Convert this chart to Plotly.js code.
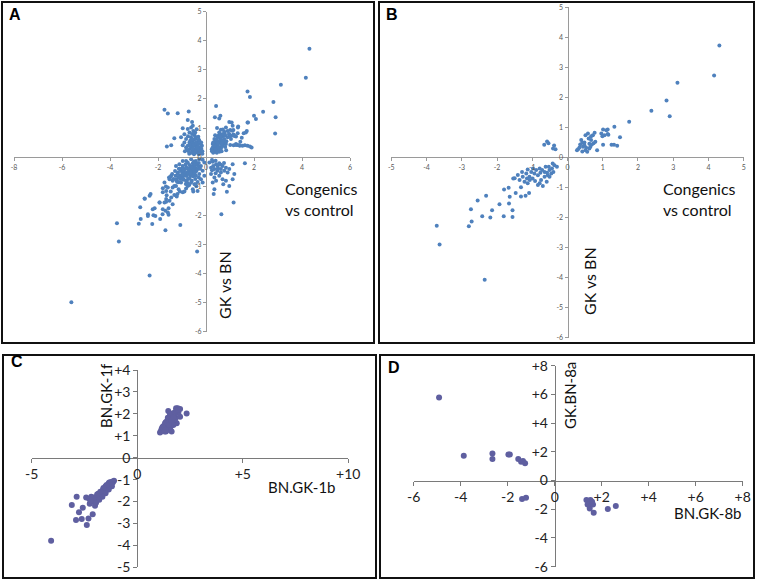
<!DOCTYPE html>
<html><head><meta charset="utf-8">
<script src="https://cdn.plot.ly/plotly-3.0.1.min.js"></script>
<style>body{margin:0;padding:0;background:#fff}#chart{width:757px;height:582px}</style>
</head><body><div id="chart"></div>
<script>
// ---- Panel B (subset, also shown in A) ----
const bX = [4.31,4.16,3.12,2.81,2.90,2.38,1.75,1.49,1.33,1.16,1.14,1.01,0.99,1.41,1.32,1.25,1.01,
  0.30,0.36,0.44,0.48,0.51,0.58,0.51,0.56,0.62,0.67,0.72,0.77,0.74,0.79,0.84,0.65,0.42,0.48,0.34,0.60,0.67,0.62,0.96,1.05,1.10,1.14,0.42,0.27,0.39,0.53,0.69,
  -0.66,-0.58,-0.54,-0.38,-0.34,-0.41,
  -1.54,-1.67,-1.80,-1.32,-1.47,-1.32,-1.19,-1.09,-2.31,-2.55,-2.74,-2.72,-2.42,-2.14,-2.19,-1.93,-1.81,-1.66,-1.56,-1.56,-1.64,-2.80,-3.71,-3.63,-2.35,
  -0.37,-0.30,-0.44,-0.51,-0.46,-0.56,-0.65,-0.72,-0.79,-0.89,-0.94,-1.03,-1.13,-1.17,-1.08,-0.99,-0.75,-0.84,-0.70,-0.59,-1.27,-1.36,-1.41,-1.50,-1.22,-1.13,-0.42,-0.53,-0.62,-0.98,-0.84,-0.51,-0.65,-0.92,-1.07,-0.40,-0.58,-0.77,-1.15,-1.29,-0.79];
const bY = [3.73,2.73,2.49,1.90,1.37,1.56,1.19,0.67,1.02,0.76,0.93,0.93,0.71,0.39,0.42,0.42,0.42,
  0.27,0.43,0.36,0.50,0.74,0.80,0.24,0.19,0.46,0.58,0.74,0.82,0.47,0.52,0.24,0.36,0.49,0.41,0.33,0.63,0.71,0.30,0.80,0.74,0.91,0.78,0.20,0.24,0.58,0.32,0.43,
  0.42,0.53,0.47,0.40,0.27,0.30,
  -0.70,-1.01,-1.07,-0.99,-1.18,-1.30,-1.27,-1.18,-1.27,-1.43,-1.72,-2.13,-1.96,-1.76,-2.00,-1.56,-1.96,-1.53,-1.76,-1.98,-1.31,-2.29,-2.27,-2.90,-4.07,
  -0.26,-0.31,-0.37,-0.42,-0.53,-0.59,-0.48,-0.42,-0.37,-0.42,-0.53,-0.48,-0.40,-0.53,-0.64,-0.70,-0.75,-0.92,-0.95,-0.81,-0.64,-0.75,-0.58,-0.69,-0.81,-0.86,-0.20,-0.31,-0.31,-0.37,-0.59,-0.64,-0.64,-0.78,-0.75,-0.48,-0.51,-0.51,-0.70,-0.48,-0.86];

// ---- Panel A extra points (A = B points + these) ----
const aExtraX = [
  -1.73,-1.59,-1.18,-0.72,-0.76,-0.58,-0.55,-0.97,-1.32,-1.63,-1.45,-1.04,-0.69,-0.53,-0.83,-0.90,-0.69,-0.62,-0.48,-0.42,-0.55,-0.76,-0.62,-0.48,-0.35,-0.28,-0.42,-0.55,-0.69,-0.35,-0.21,-0.48,-0.83,-0.97,-0.28,-0.17,-0.76,-0.62,-0.90,-0.39,-0.25,-0.58,
  -0.45,-0.30,-0.60,-0.20,-0.72,-0.38,-0.50,-0.65,-0.32,-0.25,-0.15,-0.55,-0.40,-0.62,-0.75,-0.45,
  -0.30,-0.50,-0.70,-0.35,-0.52,-0.67,-0.80,-0.60,-0.42,-0.20,-0.30,-0.15,-0.88,-0.58,-0.45,
  0.42,0.37,0.60,0.55,0.46,0.97,1.07,1.73,1.83,2.00,2.08,1.70,1.57,1.32,1.25,1.11,1.34,1.43,1.25,1.15,1.62,1.90,0.83,0.90,0.76,0.62,0.69,0.48,0.35,0.28,0.24,0.35,0.48,0.62,0.76,0.90,0.55,0.69,0.83,0.42,0.28,0.97,1.04,1.18,1.52,1.39,1.73,2.88,1.73,1.66,1.83,
  0.30,0.45,0.40,0.55,0.65,0.80,0.35,0.50,0.70,0.25,
  0.45,0.60,0.55,0.70,0.80,0.38,0.52,0.66,0.30,0.85,
  0.14,0.28,0.42,0.55,0.69,0.83,0.97,1.11,1.62,0.21,0.35,0.48,0.62,0.76,0.55,0.69,0.83,0.35,0.21,0.42,0.28,1.11,0.48,0.62,0.90,0.35,0.32,0.87,1.15,0.64,0.97,0.72,1.18,
  0.25,0.40,0.30,0.50,0.25,0.40,0.60,0.75,
  -1.25,-1.11,-0.97,-0.83,-0.69,-0.55,-0.42,-0.28,-0.14,-0.07,-0.21,-0.35,-0.48,-0.62,-0.76,-0.90,-1.04,-1.18,-1.11,-0.97,-0.83,-0.69,-0.55,-0.42,-0.28,-0.14,-0.21,-0.35,-0.48,-0.62,-1.45,-1.39,-1.52,-1.73,-1.59,-1.66,-1.80,-1.39,-1.25,-1.14,-0.97,-0.83,-0.55,-0.35,-1.22,-1.45,-1.66,-1.94,-1.73,-1.52,-1.39,-1.80,-1.69,-1.59,-2.22,-2.35,-2.56,-1.91,-2.11,-2.42,-2.24,-0.83,-0.62,-0.97,-0.76,-0.48,-0.39,-0.69,-0.55,-0.90,-1.04,-1.25,-0.76,-0.14,-0.07,
  -0.30,-0.50,-0.65,-0.45,-0.80,-0.95,-1.10,-0.70,-0.40,-0.25,-0.60,-0.85,-1.00,-1.20,-0.30,
  -0.37,-5.61,-1.69,-1.07,-0.44,-0.53,-0.90];
const aExtraY = [
  1.63,1.50,1.51,1.57,1.28,1.21,1.08,0.99,0.65,0.37,0.41,0.68,0.85,0.90,0.62,0.50,0.50,0.68,0.76,0.62,0.50,0.39,0.33,0.39,0.45,0.33,0.27,0.22,0.27,0.16,0.22,0.14,0.33,0.41,0.56,0.39,0.97,1.02,0.79,0.96,0.16,0.39,
  0.20,0.25,0.15,0.30,0.20,0.50,0.60,0.58,0.70,0.45,0.20,0.30,0.35,0.45,0.72,0.85,
  0.10,0.10,0.12,0.35,0.42,0.40,0.25,0.60,0.50,0.50,0.60,0.12,0.20,0.80,0.70,
  1.76,1.37,1.42,1.33,1.00,1.21,1.19,2.26,2.07,1.42,1.31,0.90,0.82,0.82,0.71,1.08,1.05,0.53,0.45,0.41,0.41,0.33,1.02,0.90,0.87,0.94,0.79,0.68,0.62,0.45,0.27,0.22,0.39,0.50,0.62,0.68,0.27,0.39,0.45,0.50,0.33,0.79,0.62,0.73,0.39,0.41,0.39,0.81,1.19,0.85,0.37,
  0.15,0.15,0.30,0.55,0.20,0.35,0.40,0.48,0.55,0.20,
  0.60,0.70,0.85,0.95,0.75,0.75,0.35,0.48,0.50,0.55,
  -0.18,-0.16,-0.24,-0.21,-0.30,-0.36,-0.41,-0.24,-0.21,-0.36,-0.41,-0.47,-0.53,-0.47,-0.64,-0.76,-0.81,-0.70,-0.58,-0.81,-0.87,-0.76,-0.30,-0.41,-0.53,-1.10,-1.27,-1.19,-1.56,-1.96,-0.99,-0.93,-0.58,
  -0.10,-0.12,-0.30,-0.38,-0.45,-0.55,-0.25,-0.20,
  -0.30,-0.24,-0.30,-0.36,-0.27,-0.21,-0.13,-0.07,-0.09,-0.18,-0.30,-0.41,-0.53,-0.47,-0.58,-0.53,-0.47,-0.58,-0.70,-0.76,-0.81,-0.73,-0.66,-0.64,-0.58,-0.47,-0.76,-0.85,-0.93,-0.87,-0.64,-0.81,-0.76,-0.87,-1.04,-1.16,-1.21,-1.04,-0.99,-1.10,-1.21,-1.08,-1.10,-1.16,-1.35,-1.39,-1.44,-1.56,-1.56,-1.50,-1.62,-1.79,-1.84,-1.90,-1.79,-1.33,-1.42,-2.13,-2.02,-2.02,-2.30,-0.13,-0.07,-0.13,-0.18,-0.30,-0.24,-0.39,-0.41,-0.64,-0.87,-0.76,-0.99,-0.87,-0.64,
  -0.20,-0.15,-0.55,-0.75,-0.65,-0.45,-0.40,-0.95,-1.00,-0.40,-0.35,-0.25,-0.60,-0.85,-0.70,
  -3.24,-4.99,-2.51,-2.33,-0.93,-1.18,-1.18];
const aX = bX.concat(aExtraX);
const aY = bY.concat(aExtraY);

// ---- Panel C ----
const cX = [1.08,1.12,1.18,1.15,1.22,1.25,1.20,1.30,1.28,1.35,1.33,1.40,1.38,1.45,1.42,1.50,1.48,1.55,1.52,1.60,1.58,1.65,1.47,1.62,1.70,1.75,1.84,1.92,2.03,1.95,2.34,1.87,1.71,1.36,1.55,1.71,1.19,1.32,1.47,1.79,2.03,1.63,1.40,1.60,1.30,1.50,1.65,1.80,
  1.25,1.35,1.45,1.55,1.35,1.50,1.62,1.72,1.85,1.95,
  -1.10,-1.15,-1.20,-1.22,-1.28,-1.30,-1.35,-1.38,-1.42,-1.45,-1.50,-1.52,-1.58,-1.60,-1.65,-1.68,-1.72,-1.75,-1.80,-1.82,-1.88,-1.90,-1.95,-2.00,-2.05,-2.10,-1.40,-1.55,-1.70,-1.25,-1.35,-1.50,-1.62,-1.85,-2.18,-2.42,-2.27,-1.84,-1.76,-2.00,-2.11,-2.31,-2.39,-2.63,-2.90,-2.76,-2.58,-2.87,-3.10,-4.08,-2.25,-1.95,
  -1.20,-1.35,-1.50,-1.65,-1.80,-1.30,-1.45,-1.60,-1.75,-1.90,-2.05,-2.20];
const cY = [1.15,1.20,1.22,1.30,1.28,1.35,1.40,1.32,1.45,1.40,1.52,1.48,1.60,1.55,1.68,1.62,1.75,1.70,1.85,1.78,1.92,1.88,2.13,2.00,1.95,2.05,2.25,2.25,2.22,2.05,2.02,1.57,1.72,1.19,1.34,1.49,1.37,1.57,1.72,1.87,1.87,1.19,1.25,1.45,1.20,1.40,1.60,1.75,
  1.45,1.62,1.82,2.00,1.28,1.50,1.68,1.85,2.15,2.18,
  -1.05,-1.12,-1.10,-1.20,-1.18,-1.28,-1.25,-1.35,-1.32,-1.42,-1.40,-1.50,-1.48,-1.58,-1.55,-1.65,-1.62,-1.72,-1.70,-1.80,-1.78,-1.88,-1.85,-1.95,-1.92,-2.00,-1.45,-1.60,-1.75,-1.30,-1.15,-1.30,-1.45,-1.65,-1.78,-1.82,-1.88,-1.88,-1.70,-2.19,-2.58,-2.77,-3.07,-2.80,-2.84,-2.49,-2.28,-1.78,-2.16,-3.79,-2.10,-2.05,
  -1.30,-1.45,-1.62,-1.78,-1.92,-1.12,-1.25,-1.38,-1.55,-1.68,-1.82,-1.95];

// ---- Panel D ----
const dX = [-4.92,-3.87,-2.65,-2.65,-1.97,-1.91,-1.55,-1.43,-1.35,-1.26,-1.39,-1.22,1.35,1.45,1.52,1.55,1.49,1.63,1.66,2.26,2.60,1.40,1.59];
const dY = [5.79,1.73,1.89,1.50,1.82,1.82,1.50,1.31,1.36,1.20,-1.29,-1.20,-1.36,-1.47,-1.36,-1.66,-1.94,-1.66,-2.24,-1.98,-1.77,-1.66,-1.47];

// ---- tick labels ----
const abXTicksA = [-8,-6,-4,-2,0,2,4,6];
const abXTicksB = [-5,-4,-3,-2,-1,0,1,2,3,4,5];
const abYTicks = [-6,-5,-4,-3,-2,-1,0,1,2,3,4,5];
const cXTicks = [-5,0,5,10], cXText = ['-5','0','+5','+10'];
const cYTicks = [-5,-4,-3,-2,-1,0,1,2,3,4], cYText = ['-5','-4','-3','-2','-1','0','+1','+2','+3','+4'];
const dTicks = [-6,-4,-2,0,2,4,6,8], dText = ['-6','-4','-2','0','+2','+4','+6','+8'];

const W = 757, H = 582;
const px = v => v / W, py = v => 1 - v / H;

function axesPair(xr, yr, xd, yd, xt, xtt, yt, ytt, small) {
  const yPos = yd[0] + (0 - yr[0]) / (yr[1] - yr[0]) * (yd[1] - yd[0]);
  const xPos = xd[0] + (0 - xr[0]) / (xr[1] - xr[0]) * (xd[1] - xd[0]);
  const tf = small ? {family: 'Lato, Arial, sans-serif', size: 7, color: '#595959'}
                   : {family: 'Lato, Arial, sans-serif', size: 14, color: '#222'};
  const lc = small ? '#9a9a9a' : '#7a7a7a';
  const common = {showgrid: false, zeroline: false, showline: true, linecolor: lc, linewidth: 1,
    ticks: 'outside', ticklen: small ? 3 : 4, tickcolor: lc, tickfont: tf, anchor: 'free', fixedrange: true};
  return [
    Object.assign({}, common, {domain: xd, range: xr, position: yPos, tickvals: xt, ticktext: xtt || xt.map(String)}),
    Object.assign({}, common, {domain: yd, range: yr, position: xPos, tickvals: yt, ticktext: ytt || yt.map(String)})
  ];
}

const [xa1, ya1] = axesPair([-8, 6], [-6, 5], [px(14), px(350)], [py(331.7), py(11.7)], abXTicksA, null, abYTicks, null, true);
const [xa2, ya2] = axesPair([-5, 5], [-6, 5], [px(391.3), px(743.7)], [py(337.7), py(7.3)], abXTicksB, null, abYTicks, null, true);
const [xa3, ya3] = axesPair([-5, 10], [-5, 4], [px(31.7), px(348.3)], [py(567.3), py(370)], cXTicks, cXText, cYTicks, cYText, false);
const [xa4, ya4] = axesPair([-6, 8], [-6, 8], [px(413.7), px(742.7)], [py(566.7), py(365.7)], dTicks, dText, dTicks, dText, false);

const blue = '#4f81bd', purple = '#5f5fa0';
const data = [
  {x: aX, y: aY, xaxis: 'x', yaxis: 'y', type: 'scatter', mode: 'markers', marker: {color: blue, size: 4}, hoverinfo: 'skip'},
  {x: bX, y: bY, xaxis: 'x2', yaxis: 'y2', type: 'scatter', mode: 'markers', marker: {color: blue, size: 4}, hoverinfo: 'skip'},
  {x: cX, y: cY, xaxis: 'x3', yaxis: 'y3', type: 'scatter', mode: 'markers', marker: {color: purple, size: 6}, hoverinfo: 'skip'},
  {x: dX, y: dY, xaxis: 'x4', yaxis: 'y4', type: 'scatter', mode: 'markers', marker: {color: purple, size: 6}, hoverinfo: 'skip'}
];

const rect = (x0, y0, x1, y1) => ({type: 'rect', xref: 'paper', yref: 'paper', x0: px(x0), x1: px(x1), y0: py(y1), y1: py(y0), line: {color: '#111', width: 2}, fillcolor: 'rgba(0,0,0,0)', layer: 'above'});
const tfont = {family: 'Lato, Calibri, Arial, sans-serif', size: 16, color: '#111'};
const tfont2 = {family: 'Lato, Calibri, Arial, sans-serif', size: 15, color: '#111'};
const ann = (x, y, text, font, extra) => Object.assign({xref: 'paper', yref: 'paper', x: px(x), y: py(y), text: text, showarrow: false, font: font, xanchor: 'center', yanchor: 'middle'}, extra || {});
const letterFont = {family: 'Arial, Liberation Sans, sans-serif', size: 16, color: '#000', weight: 'bold'};

const layout = {
  width: W, height: H, margin: {l: 0, r: 0, t: 0, b: 0}, showlegend: false,
  paper_bgcolor: '#fff', plot_bgcolor: 'rgba(0,0,0,0)',
  xaxis: xa1, yaxis: ya1, xaxis2: xa2, yaxis2: ya2, xaxis3: xa3, yaxis3: ya3, xaxis4: xa4, yaxis4: ya4,
  shapes: [rect(2, 2, 374, 343), rect(379, 2, 754, 343), rect(3, 355, 376, 578), rect(380, 355, 754, 578)],
  annotations: [
    ann(15, 14, '<b>A</b>', letterFont), ann(392, 14, '<b>B</b>', letterFont),
    ann(17, 361, '<b>C</b>', letterFont), ann(394, 367, '<b>D</b>', letterFont),
    ann(321, 199, 'Congenics<br>vs control', tfont, {align: 'left'}),
    ann(699, 199, 'Congenics<br>vs control', tfont, {align: 'left'}),
    ann(224, 285, 'GK vs BN', tfont, {textangle: -90}),
    ann(589, 281, 'GK vs BN', tfont, {textangle: -90}),
    ann(106, 396, 'BN.GK-1f', tfont2, {textangle: -90}),
    ann(301, 487, 'BN.GK-1b', tfont2),
    ann(570, 396, 'GK.BN-8a', tfont2, {textangle: -90}),
    ann(707, 513, 'BN.GK-8b', tfont2)
  ]
};

Plotly.newPlot('chart', data, layout, {staticPlot: true, displayModeBar: false});
</script>
</body></html>
